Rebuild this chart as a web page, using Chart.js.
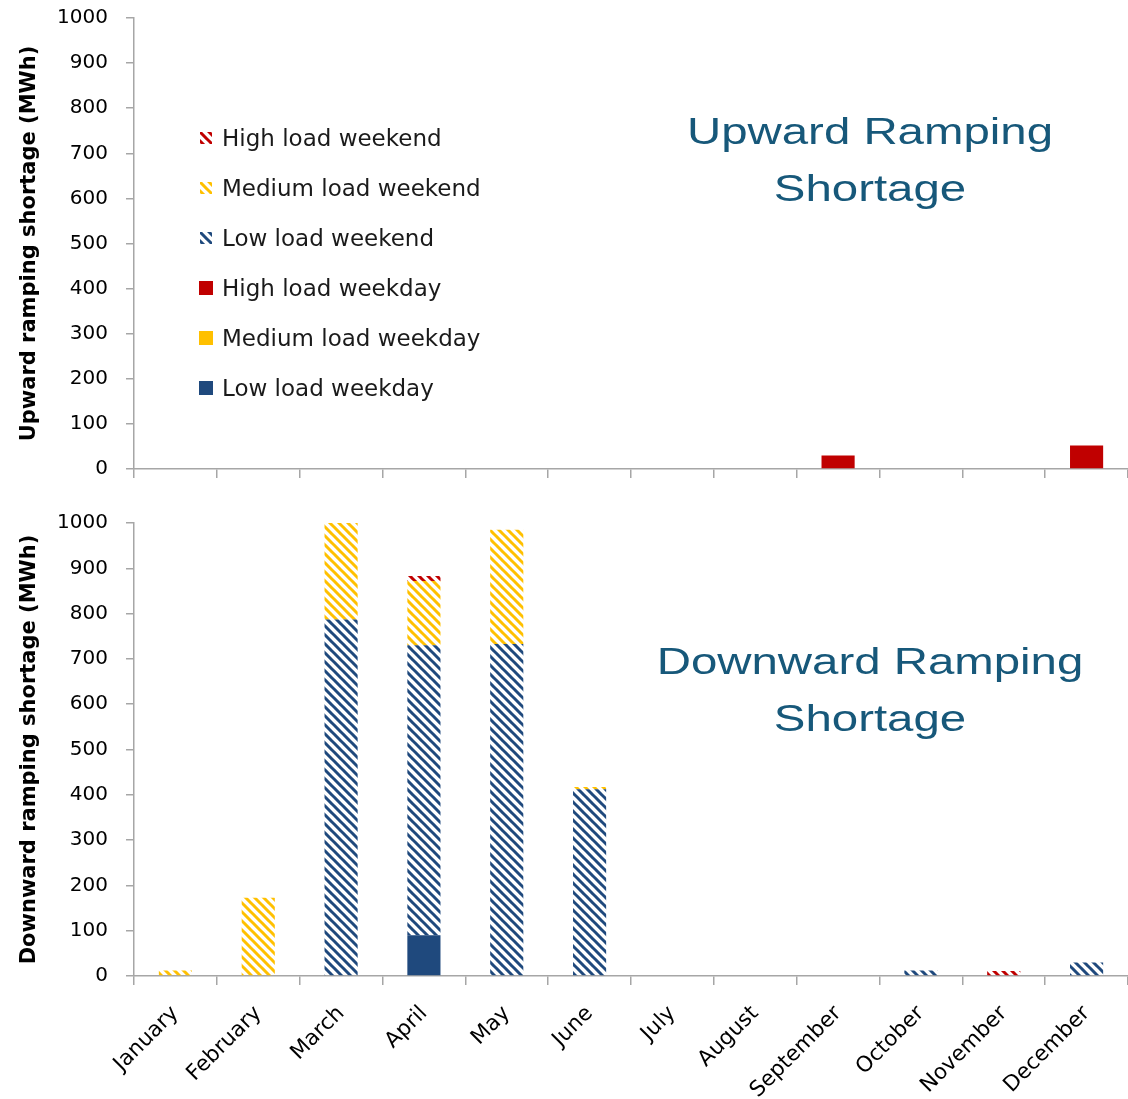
<!DOCTYPE html>
<html><head><meta charset="utf-8">
<script src="https://cdn.jsdelivr.net/npm/chart.js@4.4.1/dist/chart.umd.min.js"></script>
<style>
html,body{margin:0;padding:0;background:#fff;width:1128px;height:1099px;overflow:hidden;}
#wrap{position:relative;width:1128px;height:1099px;overflow:hidden;}
#topBox{position:absolute;left:0;top:-12px;width:1128px;height:511px;}
#botBox{position:absolute;left:0;top:490px;width:1128px;height:609px;}
.ptitle{position:absolute;left:570px;width:600px;text-align:center;font-family:"Liberation Sans",Arial,sans-serif;font-size:36px;line-height:57px;color:#17587a;transform:scaleX(1.316);transform-origin:center;white-space:nowrap;}
.litem{position:absolute;left:199px;height:30px;display:flex;align-items:center;font-family:"DejaVu Sans",sans-serif;font-size:23px;color:#1a1a1a;white-space:nowrap;}
.litem canvas{width:14px;height:14px;margin-right:9px;}
</style></head>
<body><div id="wrap">
<div id="topBox"><canvas id="cTop"></canvas></div>
<div id="botBox"><canvas id="cBot"></canvas></div>
<div class="ptitle" style="top:103px">Upward Ramping<br>Shortage</div>
<div class="ptitle" style="top:633px">Downward Ramping<br>Shortage</div>
<div id="legend"></div>
</div>
<script>
const months = ['January','February','March','April','May','June','July','August','September','October','November','December'];
const seriesNames = ['Low load weekday','Medium load weekday','High load weekday','Low load weekend','Medium load weekend','High load weekend'];
const seriesColors = ['#1F497D','#FFC000','#C00000','#1F497D','#FFC000','#C00000'];
const seriesHatched = [false,false,false,true,true,true];
const yTicks = [0,100,200,300,400,500,600,700,800,900,1000];

// Upward ramping shortage (MWh)
const upLowWeekday    = [0,0,0,0,0,0,0,0,0,0,0,0];
const upMedWeekday    = [0,0,0,0,0,0,0,0,0,0,0,0];
const upHighWeekday   = [0,0,0,0,0,0,0,0,30,0,0,52];
const upLowWeekend    = [0,0,0,0,0,0,0,0,0,0,0,0];
const upMedWeekend    = [0,0,0,0,0,0,0,0,0,0,0,0];
const upHighWeekend   = [0,0,0,0,0,0,0,0,0,0,0,0];

// Downward ramping shortage (MWh)
const downLowWeekday  = [0,0,0,90,0,0,0,0,0,0,0,0];
const downMedWeekday  = [0,0,0,0,0,0,0,0,0,0,0,0];
const downHighWeekday = [0,0,0,0,0,0,0,0,0,0,0,0];
const downLowWeekend  = [0,0,787,640,733,412,0,0,0,12,0,30];
const downMedWeekend  = [12,173,213,142,252,5,0,0,0,0,0,0];
const downHighWeekend = [0,0,0,11,0,0,0,0,0,0,11,0];

function patternCanvas(color){
  const n=9;
  const c=document.createElement('canvas'); c.width=n; c.height=n;
  const g=c.getContext('2d');
  g.strokeStyle=color; g.lineWidth=3;
  g.beginPath();
  g.moveTo(-1,-1); g.lineTo(n+1,n+1);
  g.moveTo(-n-1,-1); g.lineTo(1,n+1);
  g.moveTo(n-1,-1); g.lineTo(2*n+1,n+1);
  g.stroke();
  return c;
}
function fillFor(i, ctx){
  return seriesHatched[i] ? ctx.createPattern(patternCanvas(seriesColors[i]),'repeat') : seriesColors[i];
}

const axisGray='#a6a6a6';
const tickFont={family:'DejaVu Sans',size:20};

function makeChart(id, series, yTitle, padTop, boxH, areaBottom, showX){
  const ctx=document.getElementById(id).getContext('2d');
  const datasets=series.map((d,i)=>({
    label:seriesNames[i], data:d,
    backgroundColor: fillFor(i, ctx),
    borderWidth:0, barPercentage:0.4, categoryPercentage:1.0, stack:'s'
  }));
  return new Chart(ctx,{
    type:'bar',
    data:{labels:months, datasets},
    options:{
      responsive:true, maintainAspectRatio:false, animation:false,
      layout:{padding:{top:padTop,left:0,right:0,bottom:0}},
      plugins:{legend:{display:false},tooltip:{enabled:false}},
      scales:{
        x:{stacked:true,
          afterFit:s=>{s.height=boxH-areaBottom;},
          border:{color:axisGray,width:1.5},
          grid:{offset:true,drawOnChartArea:false,drawTicks:true,tickLength:9,color:axisGray,lineWidth:1.5},
          ticks:{font:{family:'DejaVu Sans',size:21.5},color:'#000',minRotation:45,maxRotation:45,padding:16,autoSkip:false,
            callback:function(v,i){return showX ? this.getLabelForValue(v) : '';}}
        },
        y:{stacked:true,min:0,max:1000,
          afterFit:s=>{s.width=134;},
          afterBuildTicks:s=>{s.ticks=yTicks.map(v=>({value:v}));},
          border:{color:axisGray,width:1.5},
          grid:{drawOnChartArea:false,drawTicks:true,tickLength:8,color:axisGray,lineWidth:1.5},
          ticks:{font:tickFont,color:'#000',padding:18,callback:v=>String(v)},
          title:{display:true,text:yTitle,font:{family:'DejaVu Sans',size:21,weight:'bold'},color:'#000',padding:{top:17,bottom:0}}
        }
      }
    }
  });
}

// top chart box spans page y -12..499; plot area page y 18..469
makeChart('cTop',[upLowWeekday,upMedWeekday,upHighWeekday,upLowWeekend,upMedWeekend,upHighWeekend],
  'Upward ramping shortage (MWh)',30,511,481,false);
// bottom chart box spans page y 490..1099; plot area page y 523..976
makeChart('cBot',[downLowWeekday,downMedWeekday,downHighWeekday,downLowWeekend,downMedWeekend,downHighWeekend],
  'Downward ramping shortage (MWh)',33,609,486,true);

// legend (top to bottom: reverse of stack order)
const legend=document.getElementById('legend');
const legendCenters=[138,188,238,288,338,388];
for(let k=0;k<6;k++){
  const i=5-k;
  const div=document.createElement('div');
  div.className='litem';
  div.style.top=(legendCenters[k]-15)+'px';
  const cv=document.createElement('canvas'); cv.width=14; cv.height=14;
  const g=cv.getContext('2d');
  if(seriesHatched[i]){ g.fillStyle=g.createPattern(patternCanvas(seriesColors[i]),'repeat'); g.fillRect(1,1,12,12);} 
  else { g.fillStyle=seriesColors[i]; g.fillRect(0,0,14,14);} 
  div.appendChild(cv);
  const sp=document.createElement('span'); sp.textContent=seriesNames[i];
  div.appendChild(sp);
  legend.appendChild(div);
}
</script>
</body></html>
